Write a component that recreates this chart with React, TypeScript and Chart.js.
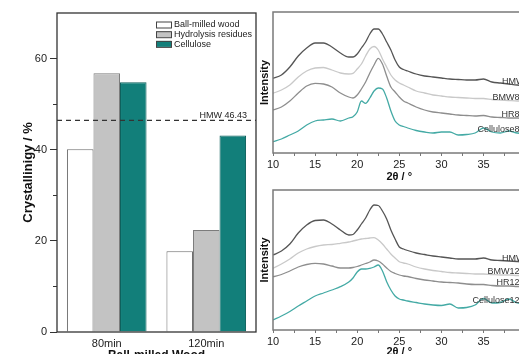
import { useEffect, useRef } from 'react';
import { Chart, registerables } from 'chart.js';

Chart.register(...registerables);

const FONT = '"Liberation Sans", Arial, Helvetica, sans-serif';
Chart.defaults.font.family = FONT;
Chart.defaults.color = '#222';

// ---------- Bar chart data ----------
const barCategories = ['80min', '120min'];
const ballMilledWood = [40.1, 17.7];
const hydrolysisResidues = [56.8, 22.4];
const celluloseCryst = [54.8, 43.1];
const hmwCrystallinity = 46.43;
const crystMajorTicks = [0, 20, 40, 60];
const crystMinorTicks = [10, 30, 50];

// ---------- XRD data ----------
const twoTheta = [10, 11, 12, 13, 14, 15, 16, 17, 18, 19, 19.5, 20, 20.5, 21, 21.5, 22, 22.5, 23, 23.5, 24, 24.5, 25, 25.5, 26, 27, 28, 29, 30, 31, 32, 33, 34, 35, 36, 37, 38, 39, 40];
const twoThetaLabelTicks = [10, 15, 20, 25, 30, 35, 40];
const twoThetaMinorTicks = [12.5, 17.5, 22.5, 27.5, 32.5, 37.5];

const hmw80 = [74.7, 78, 86, 97, 105, 110, 110, 106, 100, 96, 96, 99, 105, 111, 119, 124, 124, 119, 111, 103, 93, 86, 83.5, 82, 79, 77, 76, 75, 74, 73.5, 73, 73, 74, 71, 70, 69, 68, 67.5];
const bmw80 = [59.7, 63, 68, 76, 82, 85, 85.5, 83, 80, 79, 79.7, 84, 89, 97, 104, 106.5, 103, 94, 86, 78, 73, 70, 68, 66, 62, 60, 58, 57, 56, 55.5, 55, 54.5, 54.5, 53.5, 53, 52.5, 52, 52];
const hr80 = [43, 46, 52, 60, 67, 69.7, 69, 66, 60, 56, 55, 58, 64, 71, 80, 88, 94.7, 89, 77, 66, 61, 56, 52, 50, 46, 43, 41, 40, 39, 38, 37.5, 37, 37.5, 36, 35.5, 35, 35, 34.5];
const cel80 = [11.3, 14, 18, 22, 28, 32, 33, 34, 32, 35, 36.3, 41, 52, 49.7, 55, 62, 65, 64, 55, 42, 32, 28, 26.5, 25, 22.5, 21, 20, 21, 21, 18, 18.5, 20, 25, 21, 20, 22, 20, 19.5];

const hmw120 = [75, 79, 86, 97, 105, 109.5, 110, 106, 100, 95, 95.5, 100, 106, 112, 120, 125, 124.5, 119, 111, 100, 91, 83, 81, 79.5, 77, 75.5, 74, 73, 72, 71, 71, 71, 72, 70, 69.5, 69, 68.5, 68];
const bmw120 = [61.7, 66, 71, 77, 81, 83.5, 85, 85.5, 86.7, 88, 89, 90, 91, 91.5, 92, 92.3, 90, 86, 81, 76, 72, 68.3, 67, 66, 63, 61, 59.5, 58.5, 57.5, 57, 56.5, 56, 56, 55.5, 55, 55, 54.5, 54.3];
const hr120 = [53.3, 55.5, 59, 63, 65.5, 66.7, 66, 64, 62, 62, 62.5, 63.5, 65, 66.5, 68, 70, 69, 66, 62, 58.5, 56.5, 55, 54, 53.5, 51.5, 50, 49, 48, 47.5, 47, 46, 45.5, 45.5, 44.5, 44, 44, 43.5, 43.3];
const cel120 = [10, 14, 18.5, 24, 29, 34, 37, 40, 43.3, 48, 52, 58, 61, 61, 61.7, 63, 65, 59, 48.3, 40, 34, 31, 30, 29, 27.5, 26, 25, 24.5, 26, 22, 22.5, 25, 31.5, 27, 27.5, 31, 27, 26];

const xrdColors = ['#555555', '#c9c9c9', '#8e8e8e', '#44aaa5'];
const labels80 = ['HMW', 'BMW80', 'HR80', 'Cellulose80'];
const labels120 = ['HMW', 'BMW120', 'HR120', 'Cellulose120'];

// ---------- plugins ----------
const framePlugin = {
  id: 'frame',
  afterDatasetsDraw(chart: any, _a: any, opts: any) {
    const { ctx, chartArea: a } = chart;
    ctx.save();
    ctx.strokeStyle = opts.color;
    ctx.lineWidth = opts.width;
    ctx.strokeRect(a.left, a.top, a.right - a.left, a.bottom - a.top);
    if (opts.minorY) {
      const ys = chart.scales.y;
      ctx.lineWidth = 1;
      opts.minorY.forEach((v: number) => {
        const py = Math.round(ys.getPixelForValue(v)) + 0.5;
        ctx.beginPath();
        ctx.moveTo(a.left - opts.minorLen, py);
        ctx.lineTo(a.left, py);
        ctx.stroke();
      });
    }
    ctx.restore();
  },
};

const refLinePlugin = {
  id: 'refLine',
  afterDatasetsDraw(chart: any, _a: any, opts: any) {
    const { ctx, chartArea: a } = chart;
    const py = chart.scales.y.getPixelForValue(opts.value);
    ctx.save();
    ctx.strokeStyle = '#333';
    ctx.lineWidth = 1.2;
    ctx.setLineDash([5, 4]);
    ctx.beginPath();
    ctx.moveTo(a.left, py);
    ctx.lineTo(a.right, py);
    ctx.stroke();
    ctx.setLineDash([]);
    ctx.fillStyle = '#222';
    ctx.font = `9px ${FONT}`;
    ctx.textAlign = 'right';
    ctx.textBaseline = 'alphabetic';
    ctx.fillText(opts.text, a.right - 9, py - 2);
    ctx.restore();
  },
};

const barLegendPlugin = {
  id: 'barLegend',
  afterDraw(chart: any) {
    const { ctx, chartArea: a } = chart;
    const x = a.right - 100;
    const y0 = a.top + 11.5;
    ctx.save();
    ctx.font = `9px ${FONT}`;
    ctx.textBaseline = 'middle';
    ctx.textAlign = 'left';
    chart.data.datasets.forEach((ds: any, i: number) => {
      const cy = y0 + i * 9.7;
      ctx.fillStyle = ds.backgroundColor;
      ctx.fillRect(x, cy - 3, 15, 6);
      ctx.strokeStyle = '#444';
      ctx.lineWidth = 1;
      ctx.strokeRect(x + 0.5, cy - 3 + 0.5, 15, 6);
      ctx.fillStyle = '#222';
      ctx.fillText(ds.label, x + 18, cy + 0.5);
    });
    ctx.restore();
  },
};

const curveLabelPlugin = {
  id: 'curveLabels',
  afterDatasetsDraw(chart: any) {
    const { ctx, chartArea: a } = chart;
    const ys = chart.scales.y;
    ctx.save();
    ctx.font = `9px ${FONT}`;
    ctx.fillStyle = '#333';
    ctx.textAlign = 'right';
    ctx.textBaseline = 'alphabetic';
    chart.data.datasets.forEach((ds: any) => {
      const last = ds.data[ds.data.length - 1];
      const py = ys.getPixelForValue(last.y);
      ctx.fillText(ds.label, a.right - 1, py - 1.5);
    });
    ctx.restore();
  },
};

// ---------- chart configs ----------
const LEFT_W = 262;
const LEFT_H = 364;
const XRD_W = 280;
const XRD_H = 185;

function barConfig(): any {
  return {
    type: 'bar',
    data: {
      labels: barCategories,
      datasets: [
        { label: 'Ball-milled wood', data: ballMilledWood, backgroundColor: '#ffffff', borderColor: '#6c6c6c', borderWidth: 1 },
        { label: 'Hydrolysis residues', data: hydrolysisResidues, backgroundColor: '#c3c3c3', borderColor: '#7c7c7c', borderWidth: 1 },
        { label: 'Cellulose', data: celluloseCryst, backgroundColor: '#127f7a', borderColor: '#0b5f5b', borderWidth: 1 },
      ],
    },
    options: {
      responsive: false,
      animation: false,
      layout: { padding: { top: 13, right: LEFT_W - 256, left: 0, bottom: 0 } },
      datasets: { bar: { categoryPercentage: 0.8, barPercentage: 1.0 } },
      scales: {
        x: {
          afterFit: (s: any) => { s.height = LEFT_H - 332; },
          grid: { display: false, drawTicks: false },
          border: { display: false },
          ticks: { font: { size: 11 }, color: '#222', padding: 5, maxRotation: 0 },
          title: { display: true, text: 'Ball-milled Wood', font: { size: 12, weight: 'bold' }, color: '#111', padding: { top: 0, bottom: 1 } },
        },
        y: {
          min: 0,
          max: 70,
          afterFit: (s: any) => { s.width = 57; },
          afterBuildTicks: (s: any) => { s.ticks = crystMajorTicks.map((v) => ({ value: v })); },
          grid: { drawOnChartArea: false, drawTicks: true, tickLength: 7, tickColor: '#333', tickWidth: 1 },
          border: { display: false },
          ticks: { font: { size: 11 }, color: '#222', padding: 3 },
          title: { display: true, text: 'Crystallinigy / %', font: { size: 13, weight: 'bold' }, color: '#111', padding: { top: 21, bottom: 0 } },
        },
      },
      plugins: {
        legend: { display: false },
        tooltip: { enabled: false },
        frame: { color: '#333', width: 1.3, minorY: crystMinorTicks, minorLen: 4 },
        refLine: { value: hmwCrystallinity, text: `HMW ${hmwCrystallinity}` },
      },
    },
    plugins: [framePlugin, refLinePlugin, barLegendPlugin],
  };
}

function xrdConfig(series: number[][], names: string[], yMax: number, topPad: number, titlePad: number): any {
  return {
    type: 'line',
    data: {
      datasets: series.map((vals, i) => ({
        label: names[i],
        data: twoTheta.map((x, j) => ({ x, y: vals[j] })),
        borderColor: xrdColors[i],
        borderWidth: 1.3,
        pointRadius: 0,
        fill: false,
        cubicInterpolationMode: 'monotone',
      })),
    },
    options: {
      responsive: false,
      animation: false,
      layout: { padding: { top: topPad, right: XRD_W - 269.6, left: 0, bottom: 0 } },
      scales: {
        x: {
          type: 'linear',
          min: 10,
          max: 40,
          afterFit: (s: any) => { s.height = XRD_H - 153; },
          afterBuildTicks: (s: any) => {
            s.ticks = [...twoThetaLabelTicks, ...twoThetaMinorTicks].sort((p, q) => p - q).map((v) => ({ value: v }));
          },
          grid: { drawOnChartArea: false, drawTicks: true, tickLength: 3, tickColor: '#777' },
          border: { display: false },
          ticks: {
            autoSkip: false,
            maxRotation: 0,
            font: { size: 11 },
            color: '#222',
            padding: 2,
            callback: (v: number) => (twoThetaLabelTicks.includes(v) ? String(v) : ''),
          },
          title: { display: true, text: '2θ / °', font: { size: 11, weight: 'bold' }, color: '#111', padding: { top: 0, bottom: titlePad } },
        },
        y: {
          min: 0,
          max: yMax,
          afterFit: (s: any) => { s.width = 17; },
          grid: { display: false },
          border: { display: false },
          ticks: { display: false },
          title: { display: true, text: 'Intensity', font: { size: 11, weight: 'bold' }, color: '#111', padding: { top: 2.5, bottom: 0 } },
        },
      },
      plugins: {
        legend: { display: false },
        tooltip: { enabled: false },
        frame: { color: '#7a7a7a', width: 1.5 },
      },
    },
    plugins: [framePlugin, curveLabelPlugin],
  };
}

function ChartCanvas({ make, width, height, left, top }: { make: () => any; width: number; height: number; left: number; top: number }) {
  const ref = useRef<HTMLCanvasElement | null>(null);
  useEffect(() => {
    if (!ref.current) return;
    const chart = new Chart(ref.current, make());
    return () => chart.destroy();
  }, []);
  return (
    <canvas
      ref={ref}
      width={width}
      height={height}
      style={{ position: 'absolute', left, top, width, height }}
    />
  );
}

export default function App() {
  return (
    <div style={{ position: 'fixed', left: 0, top: 0, width: 519, height: 354, overflow: 'hidden', background: '#fff' }}>
      <ChartCanvas make={barConfig} width={LEFT_W} height={LEFT_H} left={0} top={0} />
      <ChartCanvas make={() => xrdConfig([hmw80, bmw80, hr80, cel80], labels80, 141, 12, 1.5)} width={XRD_W} height={XRD_H} left={256} top={0} />
      <ChartCanvas make={() => xrdConfig([hmw120, bmw120, hr120, cel120], labels120, 140, 13, 3)} width={XRD_W} height={XRD_H} left={256} top={177} />
    </div>
  );
}
